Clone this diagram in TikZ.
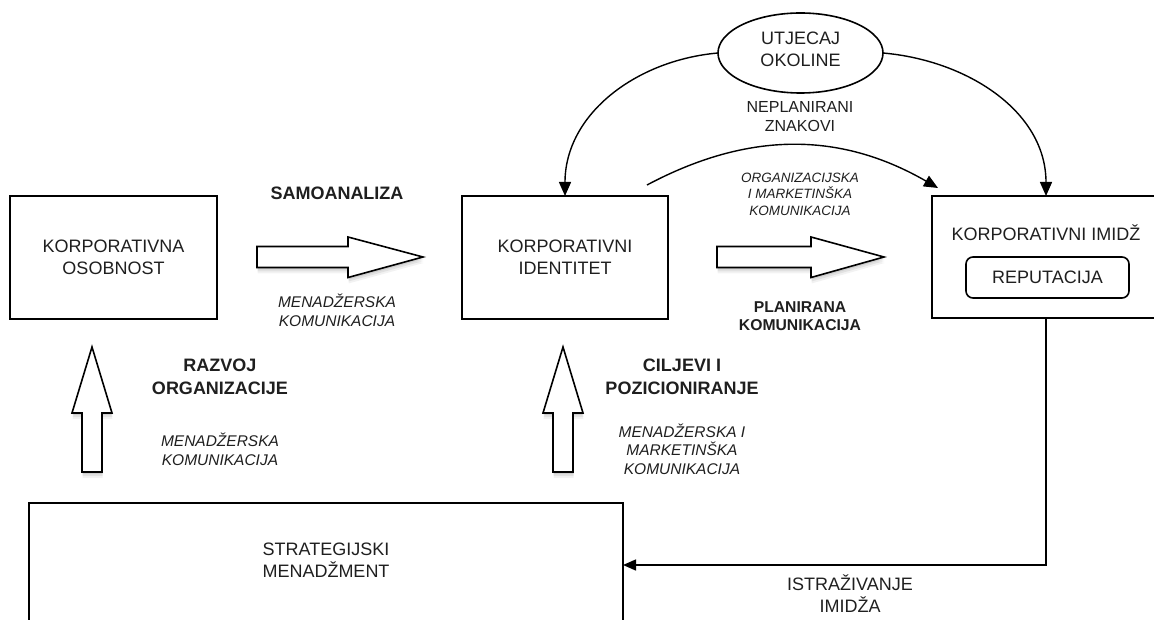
\documentclass[tikz,border=0pt]{standalone}
\usepackage{fontspec}
\setmainfont{Liberation Sans}
\usetikzlibrary{shapes.geometric,arrows.meta,shadows}
\begin{document}
\begin{tikzpicture}[x=1pt,y=1pt,
  box/.style={draw,line width=1.6pt,inner sep=0pt,outer sep=0pt,fill=white},
  lbl/.style={align=center,inner sep=0pt,text=black!88},
  plain/.style={lbl,font=\fontsize{18}{22}\selectfont},
  boldlbl/.style={lbl,font=\fontsize{18}{23}\selectfont\bfseries},
  itallbl/.style={lbl,font=\fontsize{15.5}{19}\selectfont\itshape},
  conn/.style={line width=1.4pt,-{Triangle[length=14pt,width=12pt]}},
  blockarrow/.style={draw,line width=1.6pt,fill=white,line join=miter,
    drop shadow={shadow xshift=0.5pt,shadow yshift=-6pt,opacity=0.10},
    drop shadow={shadow xshift=0.5pt,shadow yshift=-4pt,opacity=0.15},
    drop shadow={shadow xshift=0.5pt,shadow yshift=-2pt,opacity=0.20}},
]
\useasboundingbox (0,0) rectangle (1154,-620);
\clip (0,0) rectangle (1154,-620);

% boxes
\node[box,minimum width=207pt,minimum height=123pt,plain] (osob) at (113.5,-257.5) {KORPORATIVNA\\OSOBNOST};
\node[box,minimum width=206pt,minimum height=123pt,plain] (ident) at (565,-257.5) {KORPORATIVNI\\IDENTITET};
\node[box,minimum width=228pt,minimum height=122pt] (imidz) at (1046,-257) {};
\node[plain] (imidzlbl) at (1046,-233) {KORPORATIVNI IMIDŽ};
\node[box,rounded corners=7pt,minimum width=163pt,minimum height=41pt,plain] (rep) at (1047.5,-277.5) {REPUTACIJA};
\node[box,minimum width=594pt,minimum height=124pt] (strat) at (326,-565) {};
\node[plain] (stratlbl) at (326,-560) {STRATEGIJSKI\\MENADŽMENT};

% ellipse
\node[draw,ellipse,line width=1.6pt,inner sep=0pt,outer sep=0pt,minimum width=165pt,minimum height=80pt] (utj) at (800.5,-53) {};
\node[plain] (utjlbl) at (800.5,-49) {UTJECAJ\\OKOLINE};

% block arrows
\path[blockarrow] (257,-246.5) -- (348,-246.5) -- (348,-237) -- (423,-257) -- (348,-277.5) -- (348,-267.5) -- (257,-267.5) -- cycle;
\path[blockarrow] (717,-246.5) -- (811,-246.5) -- (811,-237) -- (884,-257) -- (811,-277.5) -- (811,-267.5) -- (717,-267.5) -- cycle;
\path[blockarrow] (82,-472) -- (82,-413) -- (72,-413) -- (92,-347) -- (112,-413) -- (102,-413) -- (102,-472) -- cycle;
\path[blockarrow] (553,-472) -- (553,-413) -- (543,-413) -- (563,-347) -- (583,-413) -- (573,-413) -- (573,-472) -- cycle;

% labels
\node[boldlbl] (samo) at (337,-193) {SAMOANALIZA};
\node[itallbl] (men1) at (337,-310) {MENADŽERSKA\\KOMUNIKACIJA};
\node[lbl,font=\fontsize{13.5}{16.5}\selectfont\itshape] (org) at (800,-194) {ORGANIZACIJSKA\\I MARKETINŠKA\\KOMUNIKACIJA};
\node[lbl,font=\fontsize{15.7}{18}\selectfont\bfseries] (plan) at (800,-316) {PLANIRANA\\KOMUNIKACIJA};
\node[lbl,font=\fontsize{16}{19}\selectfont] (nepl) at (800,-117) {NEPLANIRANI\\ZNAKOVI};
\node[boldlbl] (razvoj) at (220,-377) {RAZVOJ\\ORGANIZACIJE};
\node[itallbl] (men2) at (220,-449) {MENADŽERSKA\\KOMUNIKACIJA};
\node[boldlbl] (cilj) at (682,-377) {CILJEVI I\\POZICIONIRANJE};
\node[lbl,font=\fontsize{15.5}{18.5}\selectfont\itshape] (men3) at (682,-449) {MENADŽERSKA I\\MARKETINŠKA\\KOMUNIKACIJA};
\node[plain] (istr) at (850,-594) {ISTRAŽIVANJE\\IMIDŽA};

% connectors
\coordinate (arcstart) at (647,-185);
\coordinate (arcend) at (938,-188);
\draw[conn] (utj.west) to[out=185,in=90] (ident.north);
\draw[conn] (utj.east) to[out=-5,in=90] (imidz.north);
\draw[conn] (arcstart) to[out=28,in=150] (arcend);
\draw[line width=1.4pt,-{Triangle[length=13pt,width=11pt]}] (imidz.south) |- (strat.east);
\end{tikzpicture}
\end{document}
